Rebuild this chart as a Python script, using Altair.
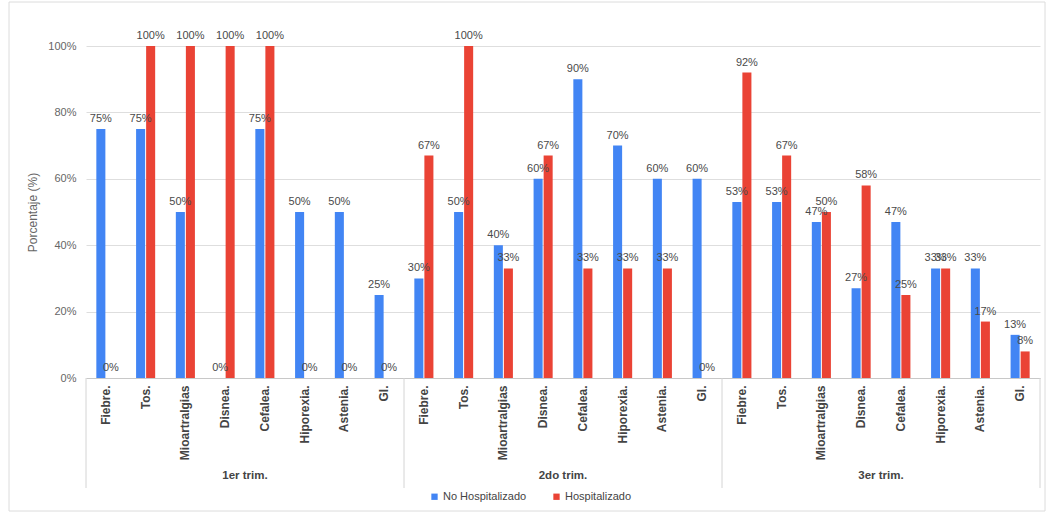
import altair as alt
import pandas as pd

# Síntomas por trimestre de gestación, pacientes hospitalizadas y no hospitalizadas
trimestres = ["1er trim.", "2do trim.", "3er trim."]
sintomas = ["Fiebre.", "Tos.", "Mioartralgias", "Disnea.", "Cefalea.", "Hiporexia.", "Astenia.", "GI."]
series = ["No Hospitalizado", "Hospitalizado"]
colores = ["#4285F4", "#EA4335"]

no_hosp = {
    "1er trim.": [75, 75, 50, 0, 75, 50, 50, 25],
    "2do trim.": [30, 50, 40, 60, 90, 70, 60, 60],
    "3er trim.": [53, 53, 47, 27, 47, 33, 33, 13],
}
hosp = {
    "1er trim.": [0, 100, 100, 100, 100, 0, 0, 0],
    "2do trim.": [67, 100, 33, 67, 33, 33, 33, 0],
    "3er trim.": [92, 67, 50, 58, 25, 33, 17, 8],
}

filas = []
for t in trimestres:
    for i, s in enumerate(sintomas):
        clave = f"{t}|{s}"
        filas.append({"clave": clave, "serie": series[0], "valor": no_hosp[t][i]})
        filas.append({"clave": clave, "serie": series[1], "valor": hosp[t][i]})
df = pd.DataFrame(filas)
df["etiqueta"] = df["valor"].astype(str) + "%"
orden = [f"{t}|{s}" for t in trimestres for s in sintomas]

n = len(orden)
sep_df = pd.DataFrame({"pos": [0, 8, 16, 24]})
grupo_df = pd.DataFrame({"pos": [4, 12, 20], "grupo": trimestres})

FUENTE = "Liberation Sans"

x_enc = alt.X(
    "clave:N",
    sort=orden,
    scale=alt.Scale(paddingInner=0.52, paddingOuter=0.26),
    axis=alt.Axis(
        title=None,
        labelAngle=-90,
        labelExpr="split(datum.label, '|')[1]",
        labelFontWeight="bold",
        labelFontSize=12,
        labelColor="#444444",
        labelPadding=7,
        ticks=False,
        domainColor="#c8c8c8",
        grid=False,
    ),
)
y_enc = alt.Y(
    "valor:Q",
    scale=alt.Scale(domain=[0, 100], nice=False),
    axis=alt.Axis(
        title="Porcentaje (%)",
        values=[0, 20, 40, 60, 80, 100],
        labelExpr="datum.value + '%'",
        labelColor="#666666",
        labelFontSize=11,
        labelPadding=10,
        titleColor="#666666",
        titleFontSize=12,
        titleFontWeight="normal",
        titlePadding=8,
        ticks=False,
        domain=False,
        gridColor="#dedede",
    ),
)
xoff = alt.XOffset("serie:N", sort=series, scale=alt.Scale(paddingInner=0.1))

barras = alt.Chart(df).mark_bar().encode(
    x=x_enc,
    xOffset=xoff,
    y=y_enc,
    color=alt.Color(
        "serie:N",
        sort=series,
        scale=alt.Scale(domain=series, range=colores),
        legend=alt.Legend(
            title=None,
            orient="none",
            direction="horizontal",
            legendX=343,
            legendY=445,
            symbolType="square",
            symbolSize=40,
            symbolStrokeWidth=0,
            labelFontSize=11,
            labelColor="#444444",
            columnPadding=24,
            labelOffset=3,
        ),
    ),
)

textos = alt.Chart(df).mark_text(
    baseline="bottom", dy=-5, fontSize=11, color="#4a4a4a", font=FUENTE
).encode(
    x=alt.X("clave:N", sort=orden),
    xOffset=xoff,
    y="valor:Q",
    text="etiqueta:N",
)

principal = alt.layer(barras, textos)

separadores = alt.Chart(sep_df).mark_rule(color="#d4d4d4", strokeWidth=1).encode(
    x=alt.X("pos:Q", scale=alt.Scale(domain=[0, n], nice=False, zero=False), axis=None),
    y=alt.value(332),
    y2=alt.value(442),
)

grupos = alt.Chart(grupo_df).mark_text(
    fontSize=11.5, fontWeight="bold", color="#444444", font=FUENTE
).encode(
    x=alt.X("pos:Q", scale=alt.Scale(domain=[0, n], nice=False, zero=False), axis=None),
    y=alt.value(430),
    text="grupo:N",
)

marco = alt.Chart(pd.DataFrame({"k": [0]})).mark_rect(
    fill=None, stroke="#dcdcdc", strokeWidth=1
).encode(
    x=alt.value(-77), x2=alt.value(959), y=alt.value(-44), y2=alt.value(465)
)

chart = (
    alt.layer(principal, separadores, grupos, marco)
    .resolve_scale(x="independent")
    .properties(
        width=954,
        height=332,
        autosize=alt.AutoSizeParams(type="none"),
        padding={"left": 86, "top": 46, "right": 7, "bottom": 138},
    )
    .configure(font=FUENTE)
    .configure_view(stroke=None)
)

chart.save("out.html", embed_options={"renderer": "svg", "actions": False})
